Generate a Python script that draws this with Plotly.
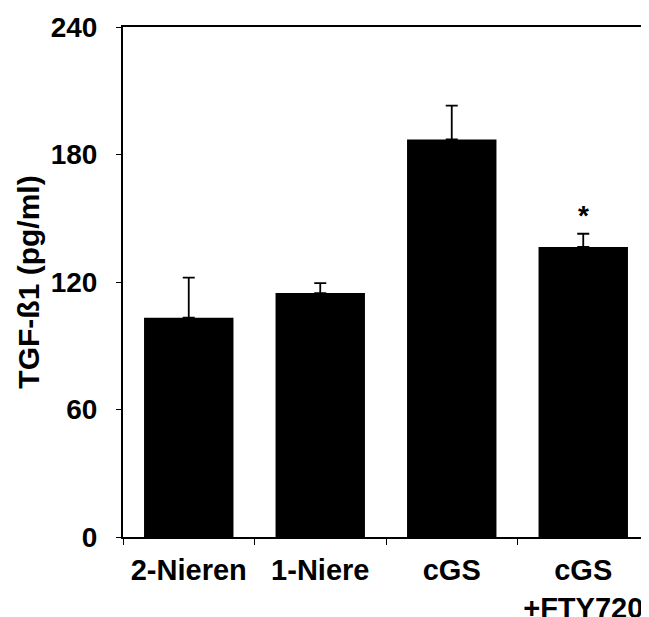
import plotly.graph_objects as go

categories = ["2-Nieren", "1-Niere", "cGS", "cGS<br>+FTY720"]
values = [103.2, 114.8, 187.1, 136.5]
errors = [18.9, 4.7, 15.9, 6.2]
markers = ["", "", "", "*"]
y_ticks = [0, 60, 120, 180, 240]

FONT = "Liberation Sans"

fig = go.Figure()
fig.add_trace(go.Bar(
    x=categories, y=values,
    marker=dict(color="black", line=dict(width=0)),
    error_y=dict(type="data", array=errors, symmetric=False, arrayminus=[0]*len(errors),
                 color="black", thickness=1.8, width=6),
    width=0.68,
))

for c, v, e, m in zip(categories, values, errors, markers):
    if m:
        fig.add_annotation(x=c, y=v + e, text="<b>%s</b>" % m, showarrow=False,
                           yanchor="bottom", yshift=1,
                           font=dict(family=FONT, size=28, color="black"))

# page body has an 8px margin, so the figure is sized/positioned to compensate
fig.update_layout(
    width=641, height=609,
    margin=dict(l=115, r=0, t=19, b=80),
    paper_bgcolor="white", plot_bgcolor="white",
    showlegend=False,
    font=dict(family=FONT, color="black"),
    xaxis=dict(
        type="category", range=[-0.5, 3.5], automargin=False,
        showline=True, linecolor="black", linewidth=2, mirror=True,
        ticks="outside", ticklen=6, tickwidth=1, tickcolor="black",
        tickson="boundaries",
        tickfont=dict(family=FONT, size=29, weight="bold", color="black"),
        ticklabelstandoff=6,
        showgrid=False, zeroline=False,
    ),
    yaxis=dict(
        range=[0, 240], tickvals=y_ticks, ticktext=[str(t) for t in y_ticks],
        automargin=False,
        showline=True, linecolor="black", linewidth=2,
        ticks="outside", ticklen=5, tickwidth=1, tickcolor="black",
        tickfont=dict(family=FONT, size=28, weight="bold", color="black"),
        ticklabelstandoff=13,
        showgrid=False, zeroline=False,
        title=dict(text="TGF-ß1 (pg/ml)", standoff=2,
                   font=dict(family=FONT, size=30, weight="bold", color="black")),
    ),
)

fig.write_html("out.html")
